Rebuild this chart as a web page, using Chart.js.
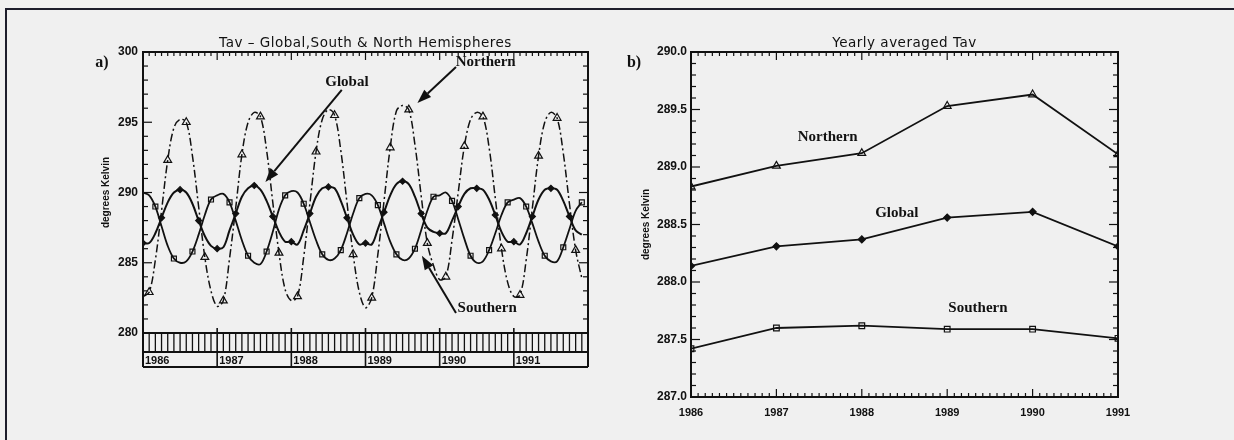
<!DOCTYPE html>
<html>
<head>
<meta charset="utf-8">
<title>Tav</title>
<script src="https://cdn.jsdelivr.net/npm/chart.js@4.4.0/dist/chart.umd.min.js"></script>
<style>
  html, body { margin: 0; padding: 0; background: #f0f0f0; }
  #wrap { position: relative; width: 1234px; height: 440px; overflow: hidden; }
  #frame { position: absolute; left: 5px; top: 8px; width: 1300px; height: 500px;
           border-left: 2px solid #1d1d2b; border-top: 2px solid #1d1d2b; }
  canvas { position: absolute; top: 0; }
  #chartA { left: 0; }
  #chartB { left: 600px; }
</style>
</head>
<body>
<div id="wrap">
  <div id="frame"></div>
  <canvas id="chartA" width="600" height="440"></canvas>
  <canvas id="chartB" width="634" height="440"></canvas>
</div>
<script>
// monthly mean surface temperature (K), Jan 1986 .. Dec 1991
const years = [1986, 1987, 1988, 1989, 1990, 1991];

const northMonthly = [
  282.6, 282.9, 285.2, 288.7, 292.3, 294.6, 295.2, 295.0, 292.6, 289.0, 285.4, 283.0,
  281.9, 282.3, 285.3, 288.9, 292.7, 295.0, 295.7, 295.4, 293.0, 289.3, 285.7, 283.1,
  282.3, 282.6, 285.4, 289.2, 292.9, 295.2, 295.9, 295.5, 293.0, 289.3, 285.6, 282.9,
  281.8, 282.5, 285.6, 289.4, 293.2, 295.8, 296.2, 295.9, 293.4, 289.8, 286.4, 284.8,
  283.8, 284.0, 286.6, 290.0, 293.3, 295.2, 295.7, 295.4, 293.2, 289.6, 286.0, 283.6,
  282.6, 282.7, 285.2, 288.9, 292.6, 295.0, 295.7, 295.3, 292.8, 289.2, 285.9, 283.9
];
const southMonthly = [
  290.0, 289.8, 289.0, 287.6, 286.2, 285.3, 285.0, 285.1, 285.8, 287.0, 288.4, 289.5,
  289.8, 289.9, 289.3, 288.0, 286.6, 285.5, 285.0, 284.9, 285.8, 287.2, 288.8, 289.8,
  290.1, 290.0, 289.2, 287.9, 286.6, 285.6, 285.2, 285.3, 285.9, 287.1, 288.5, 289.6,
  289.9, 289.8, 289.1, 287.8, 286.5, 285.6, 285.2, 285.3, 286.0, 287.3, 288.7, 289.7,
  289.8, 290.0, 289.4, 288.1, 286.7, 285.5, 285.0, 285.1, 285.9, 287.1, 288.4, 289.3,
  289.5, 289.6, 289.0, 287.8, 286.5, 285.5, 285.1, 285.1, 286.1, 287.4, 288.7, 289.3
];
const globalMonthly = [
  286.4, 286.4, 287.1, 288.2, 289.3, 290.0, 290.2, 290.0, 289.2, 288.0, 286.9, 286.2,
  286.0, 286.1, 287.3, 288.5, 289.7, 290.3, 290.5, 290.2, 289.4, 288.3, 287.2, 286.5,
  286.5, 286.3, 287.3, 288.5, 289.7, 290.3, 290.4, 290.3, 289.4, 288.2, 287.0, 286.3,
  286.4, 286.3, 287.4, 288.6, 289.8, 290.6, 290.8, 290.6, 289.7, 288.5, 287.5, 287.2,
  287.1, 287.1, 288.0, 289.0, 289.9, 290.3, 290.3, 290.2, 289.5, 288.4, 287.2, 286.5,
  286.5, 286.3, 287.1, 288.3, 289.5, 290.2, 290.3, 290.2, 289.4, 288.3, 287.3, 287.0
];

// yearly averages (K)
const northYearly  = [288.83, 289.01, 289.12, 289.53, 289.63, 289.11];
const globalYearly = [288.14, 288.31, 288.37, 288.56, 288.61, 288.31];
const southYearly  = [287.42, 287.60, 287.62, 287.59, 287.59, 287.51];

const yTicksA = [280, 285, 290, 295, 300];
const yTicksB = [287.0, 287.5, 288.0, 288.5, 289.0, 289.5, 290.0];

Chart.defaults.font.family = '"Liberation Sans", Arial, sans-serif';
Chart.defaults.color = '#111';

const INK = '#111';
const monthly = arr => arr.map((v, i) => ({ x: years[0] + i / 12, y: v }));
const yearly = arr => arr.map((v, i) => ({ x: years[i], y: v }));
const every = (k, r) => c => (c.dataIndex % 3 === k ? r : 0);

function arrow(ctx, x1, y1, x2, y2) {
  const ang = Math.atan2(y2 - y1, x2 - x1);
  const hl = 14, hw = 5;
  const bx = x2 - hl * Math.cos(ang), by = y2 - hl * Math.sin(ang);
  ctx.beginPath();
  ctx.moveTo(x1, y1);
  ctx.lineTo(bx, by);
  ctx.lineWidth = 2;
  ctx.stroke();
  ctx.beginPath();
  ctx.moveTo(x2, y2);
  ctx.lineTo(bx + hw * Math.sin(ang), by - hw * Math.cos(ang));
  ctx.lineTo(bx - hw * Math.sin(ang), by + hw * Math.cos(ang));
  ctx.closePath();
  ctx.fill();
}

// inward ticks on all sides plus the box around the plot
const frameTicks = {
  id: 'frameTicks',
  afterDraw(chart, args, o) {
    const { ctx, chartArea: a, scales: { x, y } } = chart;
    ctx.save();
    ctx.strokeStyle = INK;
    ctx.lineWidth = 1.2;
    const seg = (x1, y1, x2, y2) => { ctx.beginPath(); ctx.moveTo(x1, y1); ctx.lineTo(x2, y2); ctx.stroke(); };

    const ny = Math.round((y.max - y.min) / o.yMinor);
    for (let i = 0; i <= ny; i++) {
      const py = y.getPixelForValue(y.min + i * o.yMinor);
      const len = i % o.yEvery === 0 ? 9 : 5;
      seg(a.left, py, a.left + len, py);
      seg(a.right, py, a.right - len, py);
    }
    const nx = Math.round((x.max - x.min) * 12);
    for (let i = 0; i <= nx; i++) {
      const px = x.getPixelForValue(x.min + i / 12);
      const len = i % 12 === 0 ? 8 : 4;
      seg(px, a.top, px, a.top + len);
      if (o.bottom) seg(px, a.bottom, px, a.bottom - len);
    }
    ctx.lineWidth = 2;
    ctx.strokeRect(a.left, a.top, a.right - a.left, a.bottom - a.top);

    // panel title and letter
    ctx.fillStyle = INK;
    ctx.textAlign = 'center';
    ctx.textBaseline = 'middle';
    ctx.font = '13.5px "DejaVu Sans", sans-serif';
    ctx.letterSpacing = '0.5px';
    ctx.fillText(o.title, (a.left + a.right) / 2, a.top - 9);
    ctx.letterSpacing = '0px';
    ctx.font = 'bold 16px "Liberation Serif", serif';
    ctx.fillText(o.letter, a.left - o.letterGap, a.top + 11);

    // curve names and arrows
    ctx.font = 'bold 15px "Liberation Serif", serif';
    o.labels.forEach(l => {
      ctx.fillText(l.text, x.getPixelForValue(l.x), y.getPixelForValue(l.y));
    });
    ctx.strokeStyle = INK;
    (o.arrows || []).forEach(r => {
      arrow(ctx, x.getPixelForValue(r.from[0]), y.getPixelForValue(r.from[1]),
                 x.getPixelForValue(r.to[0]), y.getPixelForValue(r.to[1]));
    });
    ctx.restore();
  }
};

// month / year strip under the monthly panel
const yearStrip = {
  id: 'yearStrip',
  afterDraw(chart) {
    const { ctx, chartArea: a, scales: { x } } = chart;
    const mid = a.bottom + 19, low = a.bottom + 34;
    ctx.save();
    ctx.strokeStyle = INK;
    ctx.fillStyle = INK;
    const seg = (x1, y1, x2, y2) => { ctx.beginPath(); ctx.moveTo(x1, y1); ctx.lineTo(x2, y2); ctx.stroke(); };
    ctx.lineWidth = 1.3;
    const nx = Math.round((x.max - x.min) * 12);
    for (let i = 1; i < nx; i++) {
      if (i % 12 === 0) continue;
      const px = x.getPixelForValue(x.min + i / 12);
      seg(px, a.bottom, px, mid);
    }
    ctx.lineWidth = 2;
    seg(a.left, mid, a.right, mid);
    seg(a.left, low, a.right, low);
    seg(a.left, a.bottom, a.left, low);
    seg(a.right, a.bottom, a.right, low);
    ctx.font = 'bold 11px "Liberation Sans", Arial, sans-serif';
    ctx.textAlign = 'left';
    ctx.textBaseline = 'alphabetic';
    years.forEach(yr => {
      const px = x.getPixelForValue(yr);
      ctx.lineWidth = 1.6;
      seg(px, a.bottom - 5, px, low);
      ctx.fillText(String(yr), px + 2, low - 3);
    });
    ctx.restore();
  }
};

const lineBase = {
  borderColor: INK,
  pointBorderColor: INK,
  pointBackgroundColor: 'rgba(0,0,0,0)',
  pointBorderWidth: 1.2,
  tension: 0.35,
  fill: false
};

new Chart(document.getElementById('chartA'), {
  type: 'line',
  data: {
    datasets: [
      { ...lineBase, label: 'Northern', data: monthly(northMonthly), borderWidth: 1.5,
        borderDash: [8, 3, 2, 3], pointStyle: 'triangle', pointRadius: every(1, 4.5) },
      { ...lineBase, label: 'Global', data: monthly(globalMonthly), borderWidth: 2,
        pointStyle: 'rectRot', pointBackgroundColor: INK, pointRadius: every(0, 3) },
      { ...lineBase, label: 'Southern', data: monthly(southMonthly), borderWidth: 1.8,
        pointStyle: 'rect', pointRadius: every(2, 3.5) }
    ]
  },
  options: {
    responsive: false,
    devicePixelRatio: 1,
    animation: false,
    layout: { padding: { left: 100, top: 52, right: 12, bottom: 107 } },
    scales: {
      x: { type: 'linear', min: 1986, max: 1992, display: false },
      y: {
        min: 280, max: 300,
        afterFit: s => { s.width = 43; },
        afterBuildTicks: s => { s.ticks = yTicksA.map(v => ({ value: v })); },
        grid: { display: false, drawTicks: false },
        border: { display: false },
        ticks: { padding: 5, font: { size: 12, weight: 'bold' }, color: INK },
        title: { display: true, text: 'degrees Kelvin', padding: 0,
                 font: { size: 10, weight: 'bold' }, color: INK }
      }
    },
    plugins: {
      legend: { display: false },
      tooltip: { enabled: false },
      frameTicks: {
        title: 'Tav \u2013 Global,South & North Hemispheres', letter: 'a)', letterGap: 41,
        yMinor: 1, yEvery: 5, bottom: false,
        labels: [
          { text: 'Global', x: 1988.75, y: 297.85 },
          { text: 'Northern', x: 1990.62, y: 299.3 },
          { text: 'Southern', x: 1990.64, y: 281.8 }
        ],
        arrows: [
          { from: [1988.68, 297.3], to: [1987.65, 290.75] },
          { from: [1990.22, 298.93], to: [1989.70, 296.37] },
          { from: [1990.22, 281.42], to: [1989.76, 285.5] }
        ]
      }
    }
  },
  plugins: [frameTicks, yearStrip]
});

new Chart(document.getElementById('chartB'), {
  type: 'line',
  data: {
    datasets: [
      { ...lineBase, label: 'Northern', data: yearly(northYearly), borderWidth: 1.8,
        tension: 0, pointStyle: 'triangle', pointRadius: 4.5 },
      { ...lineBase, label: 'Global', data: yearly(globalYearly), borderWidth: 1.8,
        tension: 0, pointStyle: 'rectRot', pointBackgroundColor: INK, pointRadius: 3.5 },
      { ...lineBase, label: 'Southern', data: yearly(southYearly), borderWidth: 1.8,
        tension: 0, pointStyle: 'rect', pointRadius: 4 }
    ]
  },
  options: {
    responsive: false,
    devicePixelRatio: 1,
    animation: false,
    layout: { padding: { left: 40, top: 52, right: 116, bottom: 13 } },
    scales: {
      x: {
        type: 'linear', min: 1986, max: 1991,
        afterFit: s => { s.height = 30; },
        grid: { display: false, drawTicks: false },
        border: { display: false },
        ticks: { stepSize: 1, padding: 9, callback: v => String(v),
                 font: { size: 11, weight: 'bold' }, color: INK }
      },
      y: {
        min: 287, max: 290,
        afterFit: s => { s.width = 51; },
        afterBuildTicks: s => { s.ticks = yTicksB.map(v => ({ value: v })); },
        grid: { display: false, drawTicks: false },
        border: { display: false },
        ticks: { padding: 4, callback: v => Number(v).toFixed(1),
                 font: { size: 12, weight: 'bold' }, color: INK },
        title: { display: true, text: 'degrees Kelvin', padding: 0,
                 font: { size: 10, weight: 'bold' }, color: INK }
      }
    },
    plugins: {
      legend: { display: false },
      tooltip: { enabled: false },
      frameTicks: {
        title: 'Yearly averaged Tav', letter: 'b)', letterGap: 57,
        yMinor: 0.1, yEvery: 5, bottom: true,
        labels: [
          { text: 'Northern', x: 1987.6, y: 289.26 },
          { text: 'Global', x: 1988.41, y: 288.6 },
          { text: 'Southern', x: 1989.36, y: 287.77 }
        ]
      }
    }
  },
  plugins: [frameTicks]
});
</script>
</body>
</html>
